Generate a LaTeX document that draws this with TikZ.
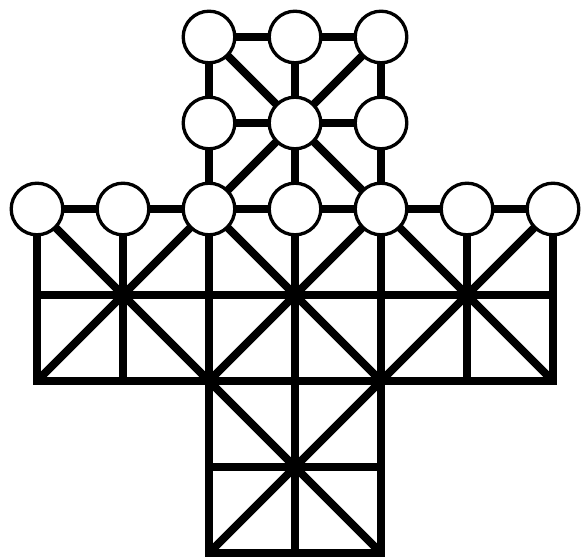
\documentclass[tikz,border=0pt]{standalone}
\begin{document}
\begin{tikzpicture}[
    x=1cm, y=-1cm,
    edge/.style={line width=2.65pt, line cap=rect},
    diag/.style={line width=2.65pt},
    hole/.style={circle, draw, fill=white, line width=1.1pt, minimum size=0.6cm, inner sep=0pt}
]
    \useasboundingbox (-0.4302,-0.4302) rectangle (6.3372,6.0465);
    % grid points
    \foreach \c in {0,...,6}
        \foreach \r in {0,...,6}
            \coordinate (p\c\r) at (\c,\r);
    % horizontal lines
    \foreach \a/\b in {20/40, 21/41, 02/62, 03/63, 04/64, 25/45, 26/46}
        \draw[edge] (p\a) -- (p\b);
    % vertical lines
    \foreach \a/\b in {02/04, 12/14, 20/26, 30/36, 40/46, 52/54, 62/64}
        \draw[edge] (p\a) -- (p\b);
    % diagonals
    \foreach \a/\b in {20/64, 40/04, 02/46, 62/26, 22/44, 42/24}
        \draw[diag] (p\a) -- (p\b);
    % holes
    \foreach \p in {20,30,40,21,31,41,02,12,22,32,42,52,62}
        \node[hole] (h\p) at (p\p) {};
\end{tikzpicture}
\end{document}
